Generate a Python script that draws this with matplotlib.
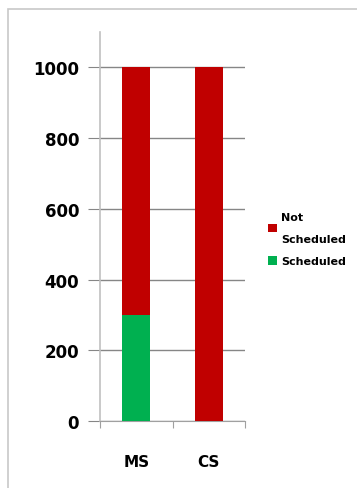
import matplotlib
matplotlib.use("Agg")
import matplotlib.pyplot as plt
from matplotlib.patches import Rectangle

categories = ["MS", "CS"]
scheduled = [300, 0]
not_scheduled = [700, 1000]
yticks = [0, 200, 400, 600, 800, 1000]

fig = plt.figure(figsize=(3.57, 4.89), dpi=100)
fig.patches.append(Rectangle((8/357, -0.1), 1.2, 1 - 10/489 + 0.1, transform=fig.transFigure,
                             fill=False, edgecolor="#c8c8c8", linewidth=1.2))
ax = fig.add_axes([100/357, 1 - 422/489, 145/357, 389/489])

x = range(len(categories))
w = 0.39
ax.bar(x, scheduled, width=w, color="#00b050", label="Scheduled", zorder=3)
ax.bar(x, not_scheduled, width=w, bottom=scheduled, color="#c00000", label="Not\nScheduled", zorder=3)

ax.set_xlim(-0.5, 1.5)
ax.set_ylim(0, 1100)
ax.set_yticks(yticks)
ax.set_yticklabels([str(v) for v in yticks], fontsize=12, fontweight="bold")
ax.set_xticks([-0.5, 0.5, 1.5], minor=False)
ax.set_xticklabels([])
ax.set_xticks([0, 1], minor=True)
ax.set_xticklabels(categories, minor=True, fontsize=11, fontweight="bold")
ax.tick_params(axis="x", which="minor", length=0, pad=24)
ax.tick_params(axis="x", which="major", length=5, color="#a0a0a0", direction="out")
ax.tick_params(axis="y", length=9, color="#868686", pad=6)
ax.grid(axis="y", color="#868686", linewidth=1, zorder=0)
for s in ["top", "right"]:
    ax.spines[s].set_visible(False)
ax.spines["left"].set_color("#c0c0c0")
ax.spines["bottom"].set_color("#a0a0a0")
ax.spines["left"].set_linewidth(1.2)

h, l = ax.get_legend_handles_labels()
leg = fig.legend(h[::-1], l[::-1], loc="center left", bbox_to_anchor=(258/357, 1 - 240/489),
                 frameon=False, prop={"size": 8, "weight": "bold"}, handlelength=0.8,
                 handleheight=0.8, handletextpad=0.4, labelspacing=1.1)
for t in leg.get_texts():
    t.set_linespacing(2.5)

fig.savefig("out.png", dpi=100)
